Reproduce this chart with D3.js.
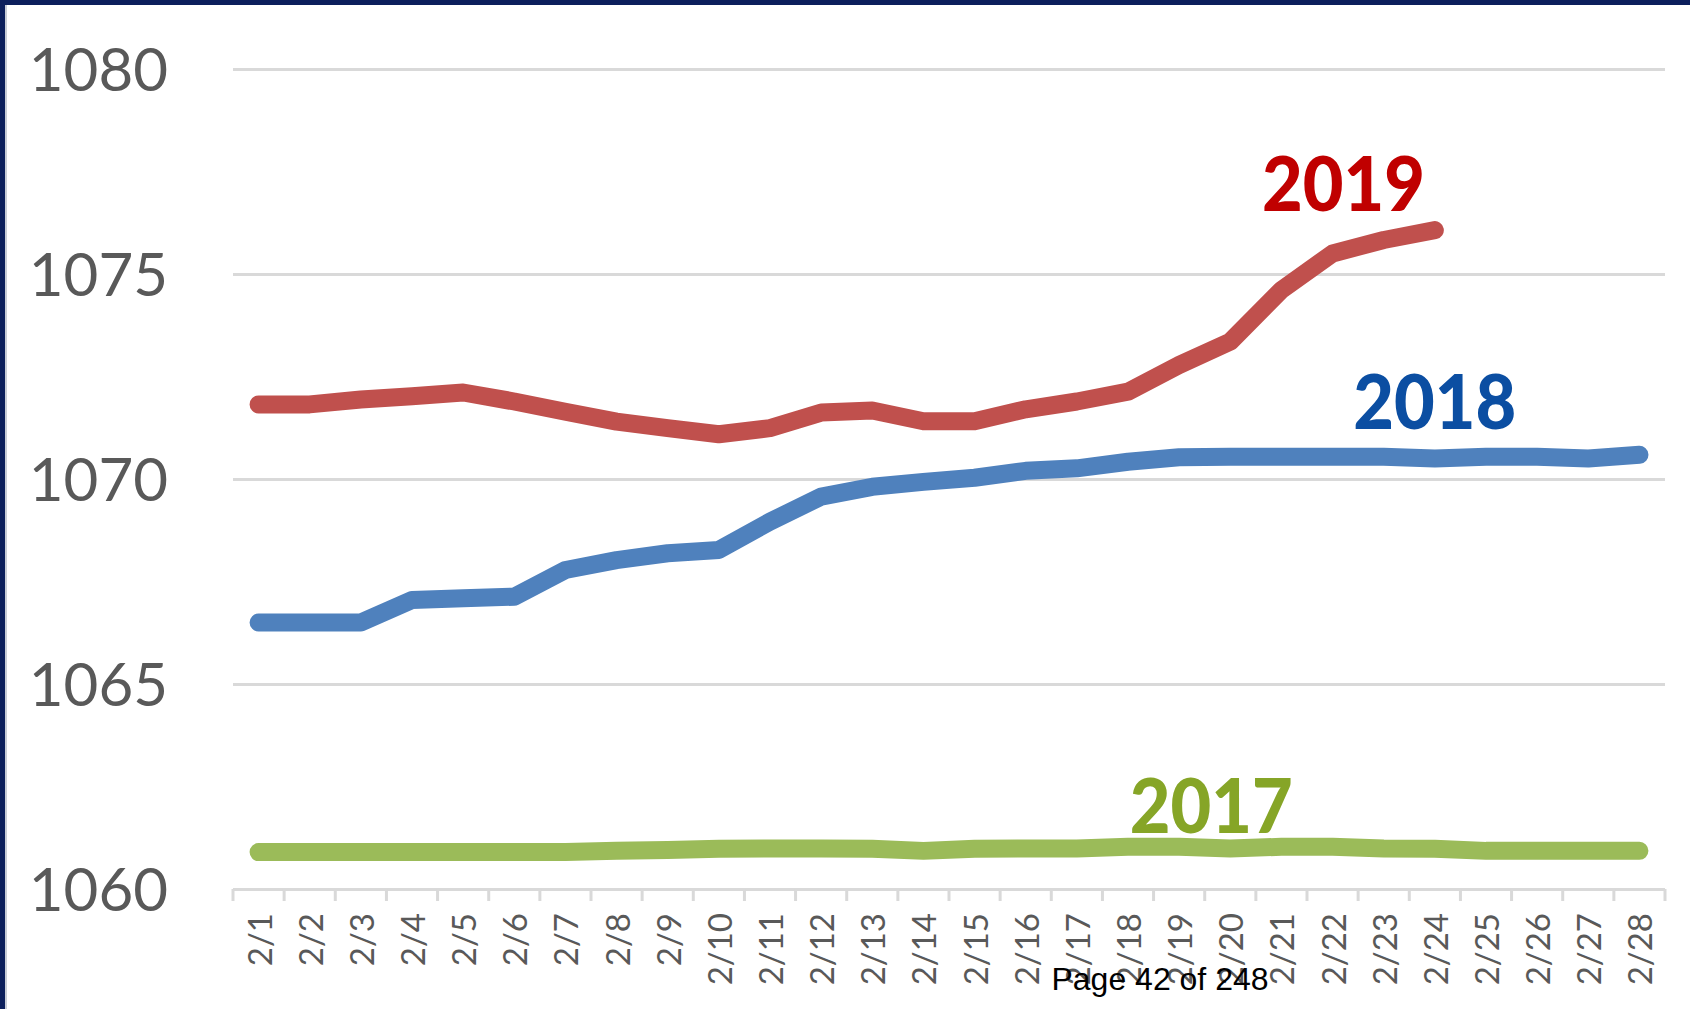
<!DOCTYPE html>
<html>
<head>
<meta charset="utf-8">
<script src="https://cdn.jsdelivr.net/npm/d3@7"></script>
<style>
  body { margin: 0; background: #fff; }
  svg { display: block; }
</style>
</head>
<body>
<svg width="1690" height="1009"></svg>
<script>
var days = ["2/1", "2/2", "2/3", "2/4", "2/5", "2/6", "2/7", "2/8", "2/9", "2/10",
  "2/11", "2/12", "2/13", "2/14", "2/15", "2/16", "2/17", "2/18", "2/19", "2/20",
  "2/21", "2/22", "2/23", "2/24", "2/25", "2/26", "2/27", "2/28"];

// 2019 only runs to 2/24
var y2019 = [1071.82, 1071.82, 1071.94, 1072.02, 1072.11, 1071.89, 1071.64, 1071.40, 1071.24, 1071.09,
  1071.24, 1071.62, 1071.67, 1071.41, 1071.41, 1071.70, 1071.89, 1072.13, 1072.78, 1073.35,
  1074.61, 1075.50, 1075.83, 1076.07];

var y2018 = [1066.50, 1066.50, 1066.50, 1067.05, 1067.09, 1067.13, 1067.78, 1068.02, 1068.19, 1068.27,
  1068.96, 1069.57, 1069.81, 1069.93, 1070.03, 1070.20, 1070.26, 1070.42, 1070.53, 1070.54,
  1070.54, 1070.54, 1070.54, 1070.50, 1070.54, 1070.54, 1070.50, 1070.59];

var y2017 = [1060.90, 1060.90, 1060.90, 1060.90, 1060.90, 1060.90, 1060.90, 1060.93, 1060.95, 1060.98,
  1060.99, 1060.99, 1060.98, 1060.93, 1060.98, 1060.99, 1060.99, 1061.03, 1061.03, 1060.99,
  1061.03, 1061.03, 1060.99, 1060.98, 1060.93, 1060.93, 1060.93, 1060.93];

var yTicks = [1060, 1065, 1070, 1075, 1080];

var seriesNames = ["2019", "2018", "2017"];
var pageText = "Page 42 of 248";

function draw() {
  var svg = d3.select("svg"),
    left = 233, right = 1665, top = 69, bottom = 889;

  svg.append("rect")
    .attr("width", 1690).attr("height", 1009)
    .attr("fill", "#fff");

  var x = d3.scaleBand()
    .domain(days)
    .range([left, right])
    .padding(0);
  var y = d3.scaleLinear()
    .domain([1060, 1080])
    .range([bottom, top]);
  var cx = function (d) { return x(d) + x.bandwidth() / 2; };

  // gridlines + y labels
  var yAxis = svg.append("g")
    .attr("transform", "translate(" + left + ",0)")
    .call(d3.axisLeft(y).tickValues(yTicks).tickSize(-(right - left)).tickPadding(65).tickFormat(d3.format("d")));
  yAxis.select(".domain").remove();
  yAxis.selectAll(".tick line")
    .attr("stroke", "#d9d9d9")
    .attr("stroke-width", 3);
  yAxis.selectAll(".tick text")
    .attr("fill", "#595959")
    .attr("font-family", "Lato, 'Open Sans', sans-serif")
    .attr("font-size", 60)
    .attr("dy", "0.36em");

  // category ticks at band edges
  var edges = days.map(function (d) { return x(d); }).concat([right]);
  svg.append("g").selectAll("line")
    .data(edges)
    .enter().append("line")
    .attr("x1", function (d) { return d; })
    .attr("x2", function (d) { return d; })
    .attr("y1", y(1060))
    .attr("y2", y(1060) + 12)
    .attr("stroke", "#d9d9d9")
    .attr("stroke-width", 3);

  svg.append("g").selectAll("text")
    .data(days)
    .enter().append("text")
    .attr("transform", function (d) { return "translate(" + cx(d) + "," + (y(1060) + 24) + ") rotate(-90)"; })
    .attr("text-anchor", "end")
    .attr("dominant-baseline", "central")
    .attr("fill", "#595959")
    .attr("font-family", "Lato, 'Open Sans', sans-serif")
    .attr("font-size", 33)
    .text(function (d) { return d; });

  var line = d3.line()
    .x(function (d, i) { return cx(days[i]); })
    .y(function (d) { return y(d); });

  var lines = [
    { data: y2017, color: "#9bbb59" },
    { data: y2018, color: "#4f81bd" },
    { data: y2019, color: "#c0504d" }
  ];
  lines.forEach(function (s) {
    svg.append("path")
      .datum(s.data)
      .attr("fill", "none")
      .attr("stroke", s.color)
      .attr("stroke-linejoin", "round")
      .attr("stroke-linecap", "round")
      .attr("stroke-width", 18)
      .attr("d", line);
  });

  // year labels next to the lines
  var labels = [
    { text: seriesNames[0], day: "2/22", dx: 11, value: 1076.54, color: "#c00000" },
    { text: seriesNames[1], day: "2/24", dx: 0, value: 1071.21, color: "#0b4ea2" },
    { text: seriesNames[2], day: "2/20", dx: -19, value: 1061.37, color: "#86a527" }
  ];
  svg.append("g").selectAll("text")
    .data(labels)
    .enter().append("text")
    .attr("x", function (d) { return cx(d.day) + d.dx; })
    .attr("y", function (d) { return y(d.value); })
    .attr("text-anchor", "middle")
    .attr("fill", function (d) { return d.color; })
    .attr("font-family", "Lato, sans-serif")
    .attr("font-weight", 900)
    .attr("font-size", 77)
    .attr("textLength", 163)
    .attr("lengthAdjust", "spacingAndGlyphs")
    .text(function (d) { return d.text; });

  svg.append("text")
    .attr("x", 1160)
    .attr("y", 990)
    .attr("text-anchor", "middle")
    .attr("fill", "#000")
    .attr("font-family", "'Liberation Sans', Arial, sans-serif")
    .attr("font-size", 32)
    .text(pageText);

  // slide frame, top and left edges
  svg.append("rect").attr("x", 0).attr("y", 0).attr("width", 1690).attr("height", 5).attr("fill", "#0c1f5c");
  svg.append("rect").attr("x", 0).attr("y", 0).attr("width", 5).attr("height", 1009).attr("fill", "#0c1f5c");
  svg.append("rect").attr("x", 5).attr("y", 5).attr("width", 2).attr("height", 1004).attr("fill", "#c8ccd6");
}
draw();
</script>
</body>
</html>
